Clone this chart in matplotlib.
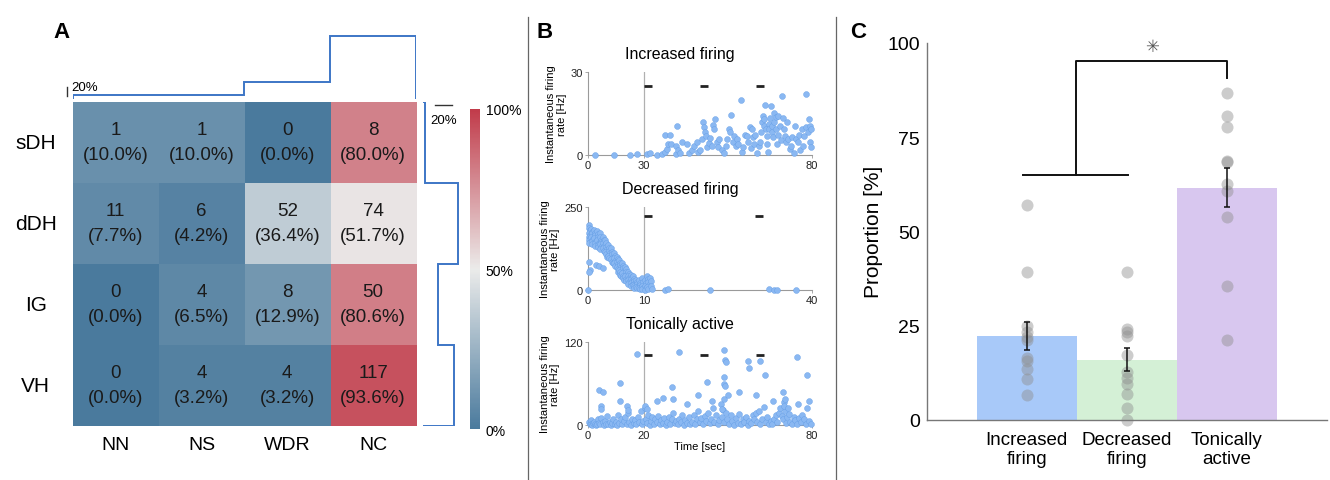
import numpy as np
import matplotlib
matplotlib.use("Agg")
import matplotlib.pyplot as plt
from matplotlib.colors import LinearSegmentedColormap
from matplotlib.lines import Line2D

plt.rcParams['font.family'] = ['Liberation Sans', 'DejaVu Sans']

# ---- panel A data ----
regions = ['sDH', 'dDH', 'IG', 'VH']
classes = ['NN', 'NS', 'WDR', 'NC']
counts = np.array([[1, 1, 0, 8],
                   [11, 6, 52, 74],
                   [0, 4, 8, 50],
                   [0, 4, 4, 117]])

# ---- panel B data (time in axis units, rate in Hz) ----
inc_pts = [(2.4, 0), (9.3, 0), (14.9, 0), (17.6, 0.2), (21.1, 0.2), (22.1, 0.7), (24.7, 0), (26.6, 0.2),
           (27.5, 1.0), (27.6, 7.2), (29.3, 7.2), (28.3, 2.2), (28.7, 4.0), (29.6, 4.0), (31.8, 10.3),
           (31.6, 3.4), (31.4, 0.2), (32.2, 1.7), (32.8, 0.7), (33.5, 4.8), (35.2, 4.0), (36.2, 0.7),
           (37.0, 1.7), (37.8, 3.4), (38.8, 4.6), (39.4, 1.0), (40.0, 1.9), (40.6, 5.8), (41.2, 12.0),
           (41.3, 10.1), (41.7, 8.2), (42.1, 6.7), (42.5, 2.8), (43.1, 4.3), (43.6, 6.0), (44.2, 3.4),
           (44.5, 10.8), (45.0, 9.4), (45.5, 13.0), (46.0, 4.6), (46.4, 2.8), (46.9, 5.8), (47.8, 1.9),
           (48.6, 0.7), (49.3, 3.4), (49.8, 5.8), (50.5, 9.4), (50.7, 8.2), (51.2, 14.4), (51.7, 4.6),
           (52.2, 6.7), (52.7, 3.1), (53.1, 5.8), (53.7, 4.0), (54.6, 19.9), (54.9, 1.0), (55.5, 2.8),
           (56.1, 7.2), (56.7, 6.7), (57.3, 4.8), (57.9, 10.0), (58.1, 2.4), (58.6, 9.4), (59.1, 6.4),
           (59.3, 4.0), (59.8, 7.2), (60.3, 0.7), (60.9, 3.1), (61.3, 4.8), (61.7, 8.2), (62.2, 11.8),
           (62.4, 14.2), (62.7, 13.0), (62.9, 10.3), (63.3, 18.0), (63.6, 9.4), (63.9, 6.7), (64.1, 4.0),
           (64.4, 1.2), (64.6, 11.2), (64.8, 9.4), (65.1, 13.2), (65.3, 17.8), (65.6, 10.3), (65.8, 8.2),
           (66.0, 6.4), (66.3, 15.1), (66.6, 11.8), (67.0, 13.6), (67.2, 9.4), (67.5, 4.0), (67.7, 7.2),
           (67.9, 13.9), (68.4, 10.6), (68.9, 5.5), (69.4, 21.1), (69.8, 13.2), (70.1, 9.4), (70.3, 7.0),
           (70.8, 4.6), (71.0, 11.8), (71.5, 5.8), (72.0, 2.2), (72.5, 3.4), (73.0, 6.4), (73.4, 0.7),
           (74.0, 10.6), (74.4, 5.8), (74.9, 4.6), (75.3, 7.2), (75.8, 1.9), (76.3, 9.4), (76.8, 3.4),
           (77.3, 6.7), (77.7, 21.8), (78.0, 10.1), (78.4, 8.2), (78.8, 13.0), (79.2, 10.6), (79.4, 4.6),
           (79.6, 2.8), (79.8, 9.4)]

dec_pts = [(0.1, 195), (0.2, 188), (0.3, 180), (0.1, 172), (0.4, 165), (0.2, 160), (0.3, 155), (0.1, 150),
           (0.4, 145), (0.2, 140), (0.2, 85), (0.3, 60), (0.1, 55),
           (0.6, 185), (0.7, 175), (0.8, 170), (0.6, 160), (0.9, 152), (0.7, 148), (0.8, 138),
           (1.1, 180), (1.2, 170), (1.3, 165), (1.1, 155), (1.4, 148), (1.2, 140), (1.3, 132), (1.4, 75),
           (1.6, 178), (1.7, 168), (1.8, 158), (1.6, 150), (1.9, 142), (1.7, 135), (1.8, 128), (2.0, 72),
           (2.1, 170), (2.2, 160), (2.4, 150), (2.3, 145), (2.1, 138), (2.4, 130), (2.2, 122),
           (2.6, 160), (2.8, 150), (2.7, 140), (2.9, 132), (2.6, 125), (2.8, 118), (2.7, 65),
           (3.1, 150), (3.3, 140), (3.2, 130), (3.4, 122), (3.1, 115), (3.3, 108), (3.4, 100),
           (3.6, 135), (3.8, 125), (3.7, 118), (3.9, 110), (3.6, 102), (3.8, 95),
           (4.1, 125), (4.3, 115), (4.2, 108), (4.4, 100), (4.1, 92), (4.3, 85), (4.4, 80),
           (4.6, 110), (4.8, 102), (4.7, 95), (4.9, 88), (4.6, 80), (4.8, 72),
           (5.1, 100), (5.3, 92), (5.2, 85), (5.4, 78), (5.1, 70), (5.3, 62), (5.4, 55),
           (5.6, 90), (5.8, 82), (5.7, 75), (5.9, 68), (5.6, 60), (5.8, 52), (5.7, 45), (5.9, 40),
           (6.1, 80), (6.3, 72), (6.2, 65), (6.4, 58), (6.1, 50), (6.3, 42), (6.2, 35), (6.4, 30),
           (6.6, 70), (6.8, 62), (6.7, 55), (6.9, 48), (6.6, 40), (6.8, 33), (6.7, 26),
           (7.1, 55), (7.3, 48), (7.2, 42), (7.4, 35), (7.1, 28), (7.3, 22), (7.2, 18),
           (7.6, 45), (7.8, 38), (7.7, 32), (7.9, 26), (7.6, 20), (7.8, 15), (7.7, 10),
           (8.1, 40), (8.3, 32), (8.2, 25), (8.4, 20), (8.1, 15), (8.3, 10), (8.2, 5),
           (8.6, 30), (8.8, 22), (8.7, 16), (8.9, 12), (8.6, 8), (8.8, 4),
           (9.1, 28), (9.3, 20), (9.2, 14), (9.4, 8), (9.1, 4), (9.3, 1),
           (9.6, 35), (9.8, 22), (9.7, 12), (9.9, 6), (9.6, 2),
           (10.1, 28), (10.3, 20), (10.2, 12), (10.4, 5), (10.1, 0),
           (10.6, 40), (10.8, 32), (10.7, 22), (10.9, 15), (10.6, 8), (10.8, 2),
           (11.1, 35), (11.3, 25), (11.2, 10), (11.4, 3),
           (0.0, 0), (13.8, 0), (14.2, 2), (21.8, 0), (32.3, 1), (33.3, 0), (33.8, 0), (37.2, 0)]

ton_pts = [(0.3, 4), (0.6, 1), (0.9, 7), (1.2, 2), (1.5, 0), (1.8, 3), (2.1, 5), (2.5, 1), (2.8, 0), (3.2, 2),
           (3.6, 8), (4.0, 3), (4.4, 1), (4.8, 10), (5.2, 4), (5.6, 0), (6.0, 6), (6.4, 2), (6.9, 13), (7.3, 1),
           (7.8, 4), (8.2, 0), (8.6, 3), (9.0, 9), (9.5, 2), (9.9, 5), (10.3, 0), (10.8, 14), (11.2, 3),
           (11.8, 8), (12.3, 1), (12.8, 6), (13.3, 12), (13.8, 2), (14.3, 18), (14.8, 4), (15.3, 0), (15.8, 9),
           (16.3, 3), (16.8, 7), (17.3, 1), (17.8, 11), (18.3, 4), (18.8, 20), (19.3, 2), (19.8, 6), (20.3, 25),
           (20.6, 8), (21.0, 3), (21.5, 14), (22.0, 0), (22.5, 6), (23.0, 11), (23.5, 2), (24.0, 9), (24.6, 4),
           (25.1, 13), (25.6, 1), (26.2, 7), (26.7, 3), (27.2, 10), (27.8, 0), (28.3, 5), (28.8, 12), (29.4, 2),
           (29.9, 8), (30.5, 17), (31.0, 3), (31.5, 6), (32.1, 1), (32.6, 9), (33.2, 4), (33.7, 14), (34.3, 0),
           (34.8, 7), (35.4, 3), (36.0, 11), (36.5, 1), (37.1, 5), (37.7, 15), (38.2, 2), (38.8, 8), (39.4, 20),
           (40.0, 4), (40.5, 10), (41.1, 1), (41.7, 13), (42.2, 6), (42.8, 18), (43.4, 3), (44.0, 9), (44.6, 25),
           (45.1, 5), (45.7, 14), (46.3, 1), (46.9, 7), (47.5, 30), (48.0, 12), (48.3, 22), (48.7, 4), (49.2, 17),
           (49.8, 9), (50.4, 2), (51.0, 14), (51.6, 6), (52.2, 0), (52.8, 10), (53.4, 3), (54.0, 16), (54.6, 1),
           (55.2, 8), (55.8, 4), (56.4, 12), (57.0, 0), (57.6, 6), (58.2, 3), (58.8, 14), (59.4, 8), (60.0, 17),
           (60.5, 5), (61.0, 20), (61.6, 2), (62.2, 9), (62.8, 26), (63.4, 4), (64.0, 12), (64.6, 1), (65.2, 6),
           (65.8, 2), (66.4, 9), (67.0, 15), (67.6, 4), (68.2, 18), (68.7, 24), (69.2, 13), (69.7, 8), (70.2, 20),
           (70.7, 3), (71.2, 11), (71.7, 16), (72.3, 5), (72.9, 1), (73.5, 12), (74.1, 7), (74.7, 2), (75.3, 10),
           (75.9, 4), (76.5, 15), (77.1, 8), (77.7, 1), (78.3, 25), (78.9, 6), (79.5, 2),
           (3.9, 50), (5.4, 48), (4.8, 28), (4.5, 23), (11.6, 61), (11.6, 35), (14.0, 28), (14.4, 21), (17.6, 103),
           (20.3, 28), (20.9, 23), (24.5, 35), (26.9, 39), (29.9, 55), (30.5, 38), (32.5, 106), (35.2, 30),
           (39.4, 44), (42.4, 62), (44.2, 35), (47.8, 23), (48.4, 69), (48.4, 60), (48.4, 38), (49.0, 56),
           (48.6, 109), (49.0, 94), (49.2, 91), (50.1, 43), (54.0, 47), (57.0, 92), (57.5, 83), (60.0, 43),
           (61.5, 93), (63.3, 72), (69.5, 47), (69.9, 33), (70.1, 28), (74.6, 98), (78.2, 72), (78.8, 35),
           (70.5, 38), (71.5, 25), (66.0, 35), (75.0, 30)]

b_titles = ['Increased firing', 'Decreased firing', 'Tonically active']
b_xmax = [80, 40, 80]
b_ymax = [30, 250, 120]
b_xticklabels = [['0', '30', '80'], ['0', '10', '40'], ['0', '20', '80']]
b_bar_y = [25, 222, 101.6]
b_bars = [[(20.1, 22.9), (40.1, 43.0), (60.0, 62.9)],
          [(10.0, 11.5), (29.9, 31.3)],
          [(20.0, 23.0), (40.0, 43.0), (60.0, 63.0)]]

# ---- panel C data ----
groups = ['Increased\nfiring', 'Decreased\nfiring', 'Tonically\nactive']
means = [22.2, 15.9, 61.6]
sems = [3.8, 3.1, 5.1]
inc_vals = [57.1, 39.1, 25.0, 23.2, 21.9, 21.2, 16.4, 15.7, 13.5, 10.8, 6.6]
dec_vals = [39.1, 24.1, 23.2, 22.3, 17.2, 12.6, 11.2, 9.5, 6.8, 3.1, 0.0]
ton_vals = [86.6, 80.5, 77.8, 68.8, 68.5, 62.6, 60.8, 53.7, 35.6, 21.2]

W, H = 1330, 481
fig = plt.figure(figsize=(W / 100, H / 100), dpi=100)


def rect(l, t, r, b):
    return [l / W, 1 - b / H, (r - l) / W, (b - t) / H]


# ================= A =================
row_tot = counts.sum(axis=1)
pct = counts / row_tot[:, None] * 100
col_marg = counts.sum(axis=0) / counts.sum() * 100
row_marg = row_tot / counts.sum() * 100

cmap = LinearSegmentedColormap.from_list('bluered', ['#4a7a9d', '#ebebea', '#c13b4a'])
ax = fig.add_axes(rect(72.7, 102.7, 416, 426.7))
im = ax.imshow(pct, cmap=cmap, vmin=0, vmax=100, aspect='auto')
ax.axis('off')
for i in range(4):
    for j in range(4):
        ax.text(j, i, f"{counts[i, j]}\n({pct[i, j]:.1f}%)", ha='center', va='center',
                fontsize=13.5, color='#1a1a1a', linespacing=1.6)
    ax.text(-0.93, i, regions[i], ha='center', va='center', fontsize=15)
for j in range(4):
    ax.text(j, 3.73, classes[j], ha='center', va='center', fontsize=14)

blue = '#3d76c6'
axt = fig.add_axes(rect(72.7, 99.5 - 100 * 0.854, 416, 99.5))
axt.stairs(col_marg, np.arange(5) - 0.5, baseline=0, color=blue, lw=1.4)
axt.set_xlim(-0.5, 3.5)
axt.set_ylim(0, 100)
axt.axis('off')
axt.plot([-0.57, -0.57], [3.3, 13.1], color='#333', lw=1, clip_on=False)
axt.text(-0.52, 13, '20%', fontsize=9.5, ha='left', va='center')

axr = fig.add_axes(rect(422.5, 102.7, 422.5 + 85.4, 426.7))
axr.stairs(row_marg, np.arange(5) - 0.5, orientation='horizontal', baseline=0, color=blue, lw=1.4)
axr.set_ylim(3.5, -0.5)
axr.set_xlim(0, 100)
axr.axis('off')
axr.plot([14.6, 34.6], [-0.46, -0.46], color='#333', lw=1, clip_on=False)
axr.text(25, -0.27, '20%', fontsize=9.5, ha='center', va='center')

cax = fig.add_axes(rect(470, 110, 480, 430))
cb = fig.colorbar(im, cax=cax, ticks=[0, 50, 100])
cb.ax.set_yticklabels(['0%', '50%', '100%'])
cb.ax.tick_params(length=0, labelsize=10, pad=4)
cb.outline.set_visible(False)

# ================= B =================
b_rects = [rect(588, 72.7, 812, 156), rect(588, 208, 812, 290.7), rect(588, 343, 812, 426)]
for k, pts in enumerate([inc_pts, dec_pts, ton_pts]):
    axb = fig.add_axes(b_rects[k])
    pts = np.array(pts)
    xm = b_xmax[k]
    axb.axvline(xm / 4, color='#b0b0b0', lw=0.9, zorder=1)
    axb.scatter(pts[:, 0], pts[:, 1], s=18, color='#8ab8f2', edgecolors='#649ee6',
                linewidths=0.3, zorder=3, clip_on=False)
    for x0, x1 in b_bars[k]:
        axb.plot([x0, x1], [b_bar_y[k], b_bar_y[k]], color='#222', lw=2, solid_capstyle='butt')
    axb.set_xlim(0, xm)
    axb.set_ylim(0, b_ymax[k])
    axb.set_xticks([0, xm / 4, xm], b_xticklabels[k])
    axb.set_yticks([0, b_ymax[k]])
    for s in ['top', 'right']:
        axb.spines[s].set_visible(False)
    for s in ['left', 'bottom']:
        axb.spines[s].set_color('#9a9a9a')
        axb.spines[s].set_linewidth(0.8)
    axb.tick_params(labelsize=8, length=2, width=0.6, color='#9a9a9a', labelcolor='#222', pad=1.5)
    axb.set_title(b_titles[k], fontsize=11.5, pad=10, x=0.41)
    axb.set_ylabel('Instantaneous firing\nrate [Hz]', fontsize=8, labelpad=3, linespacing=1.1)
    if k == 2:
        axb.set_xlabel('Time [sec]', fontsize=8, labelpad=1)

# ================= C =================
axc = fig.add_axes(rect(926.7, 44, 1326.7, 420.7))
xs = [1, 2, 3]
axc.bar(xs, means, width=1.0, color=['#a8c9f9', '#d4f0d6', '#d8c7ef'], zorder=1)
for x, vals in zip(xs, [inc_vals, dec_vals, ton_vals]):
    axc.scatter(np.full(len(vals), x), vals, s=75, color='#8f8f8f', alpha=0.45,
                linewidths=0, zorder=2, clip_on=False)
axc.errorbar(xs, means, yerr=sems, fmt='none', ecolor='#111', elinewidth=1.1,
             capsize=2.5, capthick=1.1, zorder=4)
axc.plot([0.96, 2.01], [65, 65], color='#111', lw=1.4, clip_on=False)
axc.plot([1.49, 1.49, 3.0, 3.0], [65, 95.3, 95.3, 90.6], color='#111', lw=1.4, clip_on=False)
axc.text(2.25, 99.0, '✳', ha='center', va='center', fontsize=12, color='#555')
axc.set_xlim(0, 4)
axc.set_ylim(0, 100)
axc.set_yticks([0, 25, 50, 75, 100])
axc.set_xticks(xs, groups)
axc.tick_params(length=0, labelsize=14, pad=5)
axc.tick_params(axis='x', labelsize=13.5, pad=8)
for s in ['top', 'right']:
    axc.spines[s].set_visible(False)
for s in ['left', 'bottom']:
    axc.spines[s].set_color('#777')
    axc.spines[s].set_linewidth(1)
axc.set_ylabel('Proportion [%]', fontsize=15, labelpad=3)

# panel letters and separators
for lab, x in [('A', 62), ('B', 545), ('C', 858)]:
    fig.text(x / W, 1 - 32 / H, lab, fontsize=16, fontweight='bold', ha='center', va='center')
for x in [528, 836]:
    fig.add_artist(Line2D([x / W, x / W], [0, 1 - 18 / H], color='#666', lw=0.9))

fig.savefig('out.png', dpi=100)
